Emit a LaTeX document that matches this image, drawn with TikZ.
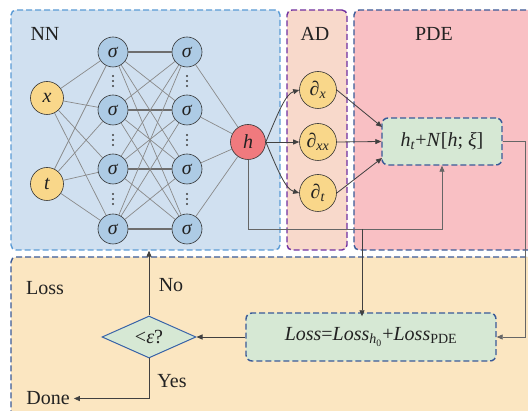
\documentclass[tikz,border=0pt]{standalone}
\usepackage{fontspec}
\setmainfont{Liberation Serif}
\usetikzlibrary{shapes.geometric,arrows.meta}
\definecolor{nnfill}{HTML}{D0E0F0}
\definecolor{nnborder}{HTML}{5B9BD5}
\definecolor{sigfill}{HTML}{ADCBE5}
\definecolor{infill}{HTML}{F9D78A}
\definecolor{hfill}{HTML}{F07A7E}
\definecolor{adfill}{HTML}{F8D9CB}
\definecolor{adborder}{HTML}{7030A0}
\definecolor{pdefill}{HTML}{F9C0C4}
\definecolor{dkblue}{HTML}{3A5A98}
\definecolor{lossfill}{HTML}{FBE6C1}
\definecolor{greenfill}{HTML}{D6E8D4}
\definecolor{diaborder}{HTML}{3A64A8}
\definecolor{netline}{HTML}{8A8A8A}
\definecolor{thickline}{HTML}{6E6E6E}
\definecolor{txt}{HTML}{222222}
\begin{document}
\begin{tikzpicture}[x=1pt,y=-1pt,
  font=\fontsize{20}{24}\selectfont, text=txt,
  regionbox/.style={draw, dash pattern=on 6pt off 3pt, line width=1.4pt, rounded corners=5pt, inner sep=0pt},
  neuron/.style={circle, draw=black!80, line width=0.6pt, fill=sigfill, minimum size=30pt, inner sep=0pt},
  inp/.style={neuron, fill=infill, minimum size=33pt},
  adnode/.style={neuron, fill=infill, minimum size=37pt},
  greenbox/.style={draw=dkblue, fill=greenfill, dash pattern=on 6pt off 3pt, line width=1.4pt, rounded corners=6pt, inner sep=0pt},
  netconn/.style={draw=netline, line width=0.7pt},
  thickconn/.style={draw=thickline, line width=1.6pt},
  arr/.style={draw=black!75, line width=0.8pt, -{Triangle[length=6pt,width=5pt]}},
  garr/.style={draw=black!60, line width=0.8pt, -{Triangle[length=6pt,width=5pt]}},
  lab/.style={anchor=base, inner sep=0pt}
]
\useasboundingbox (0,0) rectangle (528,411);
\clip (0,0) rectangle (528,411);
\fill[white] (0,0) rectangle (528,411);

% region boxes
\node[regionbox, draw=nnborder, fill=nnfill, minimum width=269pt, minimum height=240pt] (nnbox) at (145.5,130) {};
\node[regionbox, draw=adborder, fill=adfill, minimum width=60pt, minimum height=240pt] (adbox) at (317,130) {};
\node[regionbox, draw=dkblue, fill=pdefill, minimum width=186pt, minimum height=240pt] (pdebox) at (447,130) {};
\node[regionbox, draw=dkblue, fill=lossfill, minimum width=529pt, minimum height=163pt] (lossbox) at (275.5,338.5) {};

% labels
\node[lab] (lnn) at (45,41) {NN};
\node[lab] (lad) at (315,41) {AD};
\node[lab] (lpde) at (434,41) {PDE};
\node[lab] (lloss) at (45,295) {Loss};
\node[lab] (lno) at (171,292) {No};
\node[lab] (lyes) at (172,388) {Yes};
\node[lab] (done) at (48,405) {Done};

% network nodes
\node[inp] (x) at (47,98) {\textit{x}};
\node[inp] (t) at (47,184) {\textit{t}};
\foreach \i/\yy in {1/52,2/110,3/169,4/229}{
  \node[neuron] (a\i) at (113,\yy) {\textit{σ}};
  \node[neuron] (b\i) at (187,\yy) {\textit{σ}};
}
\node[neuron, fill=hfill, minimum size=35pt] (h) at (248,142) {\textit{h}};

% vertical dots
\foreach \xx in {113,187}{
  \foreach \yy in {81,140,199}{
    \foreach \d in {-5,0,5}{
      \fill[black!75] (\xx,\yy+\d) circle (1.1pt);
    }
  }
}

% connections
\begin{scope}[on background layer/.style={}]
\foreach \i in {1,2,3,4}{
  \draw[netconn] (x) -- (a\i);
  \draw[netconn] (t) -- (a\i);
  \draw[netconn] (b\i) -- (h);
  \foreach \j in {1,2,3,4}{
    \ifnum\i=\j
      \draw[thickconn] (a\i) -- (b\j);
    \else
      \draw[netconn] (a\i) -- (b\j);
    \fi
  }
}
\end{scope}

% AD nodes
\node[adnode] (dx) at (318,90) {\textit{∂}\textsubscript{\textit{x}}};
\node[adnode] (dxx) at (318,142) {\textit{∂}\textsubscript{\textit{xx}}};
\node[adnode] (dt) at (318,193) {\textit{∂}\textsubscript{\textit{t}}};

% PDE residual box
\node[greenbox, minimum width=120pt, minimum height=47pt] (pde) at (442,141.5)
  {\textit{h}\textsubscript{\textit{t}}+\textit{N}[\textit{h}; \textit{ξ}]};

% Loss box
\node[greenbox, minimum width=250pt, minimum height=48pt] (lossf) at (371,337)
  {\textit{Loss}=\textit{Loss}\textsubscript{\textit{h}\textsubscript{0}}+\textit{Loss}\textsubscript{PDE}};

% decision diamond
\node[diamond, draw=diaborder, fill=greenfill, line width=1pt, inner sep=0pt, aspect=2.2,
  minimum width=94pt, minimum height=42pt] (dia) at (149,337) {<\textit{ε}?};

% h to AD
\draw[arr] (h.east) .. controls +(12,-28) and +(-14,4) .. (dx.west);
\draw[arr] (h.east) -- (dxx.west);
\draw[arr] (h.east) .. controls +(12,28) and +(-14,-4) .. (dt.west);

% AD to PDE
\coordinate (p1) at (382,127);
\coordinate (p3) at (382,158);
\draw[arr] (dx.east) -- (p1);
\draw[arr] (dxx.east) -- (pde.west);
\draw[arr] (dt.east) -- (p3);

% h bypass to PDE
\coordinate (rowy) at (0,229);
\draw[garr] (h.south) |- (pde.south |- rowy) -- (pde.south);
\coordinate (br) at (362,229);
\draw[arr] (br) -- ([yshift=-4pt]br |- lossf.north);

% PDE to loss
\draw[garr] (pde.east) -- ++(23,0) |- (lossf.east);

% loss to decision
\draw[arr] (lossf.west) -- (dia.east);
\draw[arr] (dia.north) -- (dia.north |- nnbox.south);
\draw[arr] (dia.south) |- ([xshift=4pt]done.east);
\end{tikzpicture}
\end{document}
